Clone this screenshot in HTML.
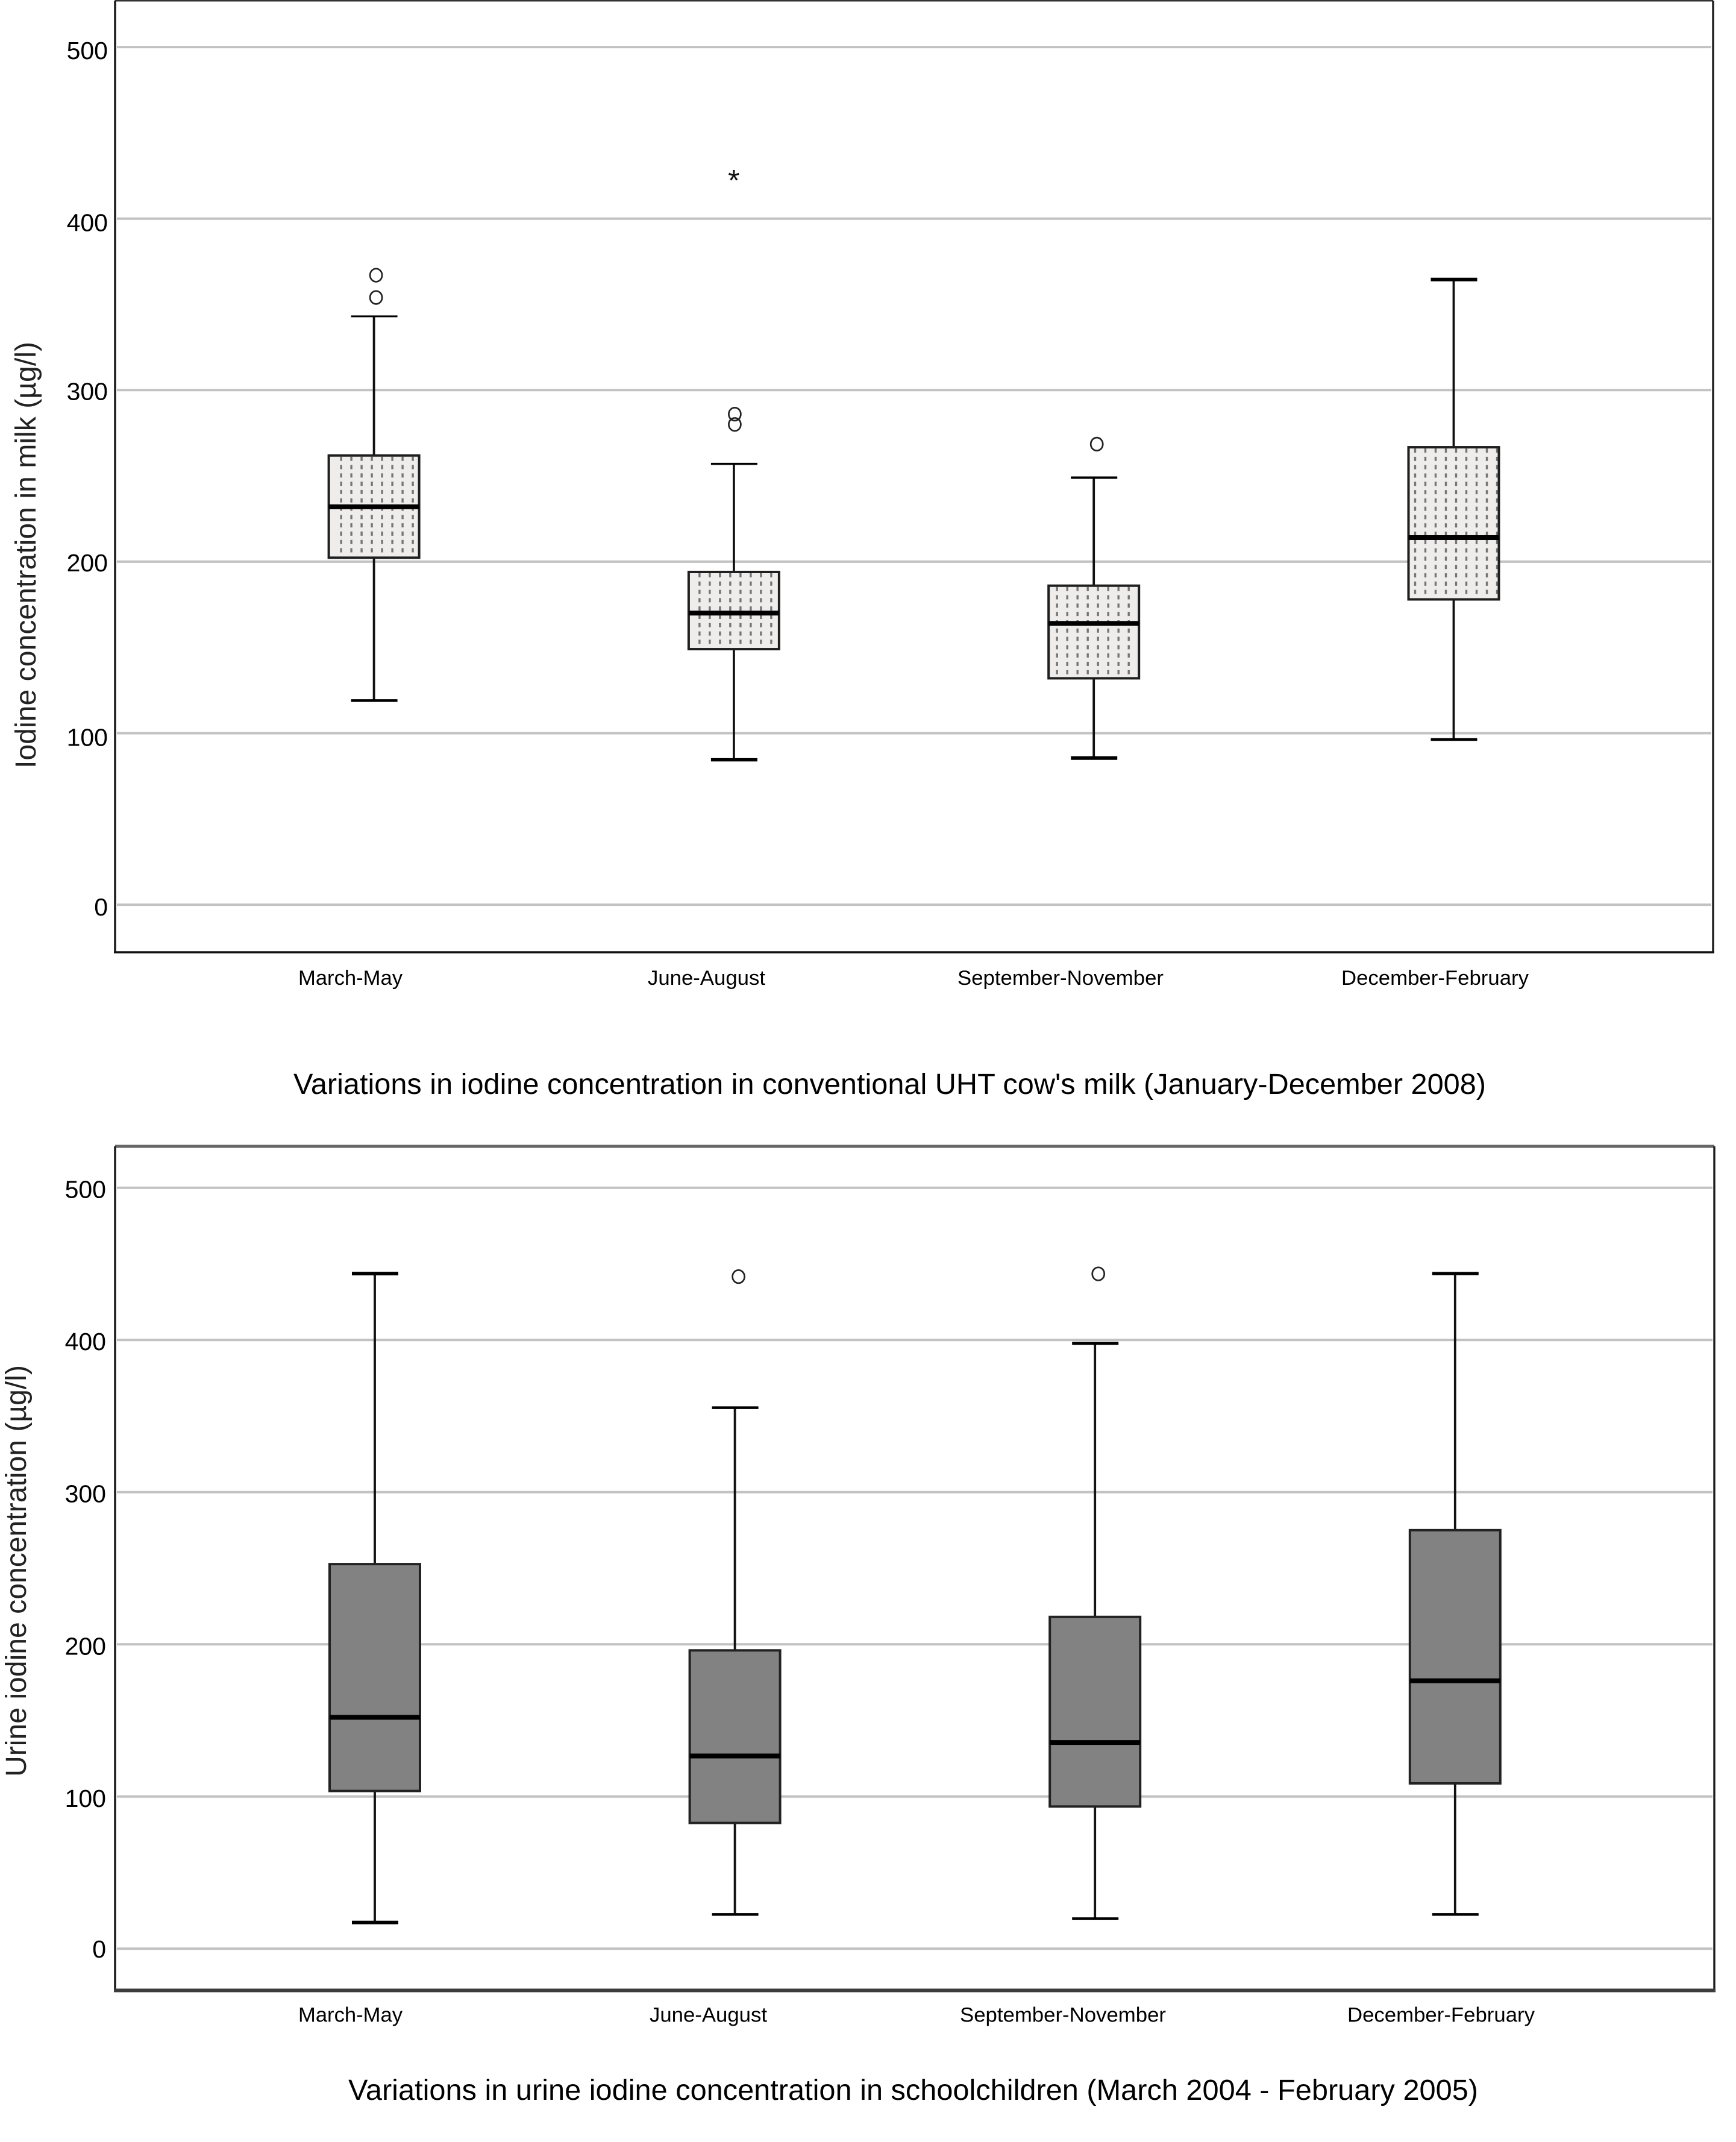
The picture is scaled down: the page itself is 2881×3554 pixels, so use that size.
<!DOCTYPE html>
<html lang="en">
<head>
<meta charset="utf-8">
<title>Iodine concentration boxplots</title>
<style>
html,body{margin:0;padding:0;background:#fff;}
svg{display:block;font-family:"Liberation Sans",Arial,sans-serif;}
</style>
</head>
<body>
<svg id="figure" xmlns="http://www.w3.org/2000/svg" width="2881" height="3554" viewBox="0 0 2881 3554"></svg>
<script>
var categories = ["March-May", "June-August", "September-November", "December-February"];
var tickLabels = [0, 100, 200, 300, 400, 500];

var milkLow = [119, 84.5, 85.5, 96.3];
var milkQ1 = [202.3, 149, 132, 178];
var milkMedian = [232, 170, 164, 214];
var milkQ3 = [261.9, 194, 186, 266.7];
var milkHigh = [343, 257, 249, 364.5];
var milkOutliers = [[367, 354], [286, 280], [268.5], []];
var milkExtremes = [[], [424], [], []];

var urineLow = [17.2, 22.5, 19.7, 22.5];
var urineQ1 = [103.6, 82.6, 93.4, 108.6];
var urineMedian = [152, 126.6, 135.5, 176];
var urineQ3 = [252.7, 196, 218, 275];
var urineHigh = [443.6, 355.5, 397.7, 443.6];
var urineOutliers = [[], [441.6], [443.4], []];
var urineExtremes = [[], [], [], []];

var svg = document.getElementById('figure');
var NS = 'http://www.w3.org/2000/svg';

function make(tag, attrs, name, parent) {
  var el = document.createElementNS(NS, tag);
  for (var k in attrs) el.setAttribute(k, attrs[k]);
  
  
  (parent || svg).appendChild(el);
  return el;
}

function drawChart(c) {
  var g = make('g', {}, c.id + '-chart');
  function y(v) { return c.y0 - c.yPerUnit * v; }
  function x(i) { return c.x0 + c.xStep * i; }

  /* gridlines and tick labels */
  tickLabels.forEach(function (t, i) {
    make('line', {x1: c.left + 3, x2: c.right - 3, y1: y(t), y2: y(t), stroke: '#c2c2c2', 'stroke-width': 4}, c.id + '-gridline-' + t, g);
    var lab = make('text', {x: c.tickRight, y: y(t) + c.tickDy[i], 'text-anchor': 'end', 'font-size': 41, fill: '#000'}, c.id + '-y-tick-' + t, g);
    lab.textContent = String(t);
  });

  /* boxes */
  categories.forEach(function (cat, i) {
    var cx = x(i), slug = c.id + '-' + cat.toLowerCase().replace(/[^a-z]+/g, '-');
    make('line', {x1: cx, x2: cx, y1: y(c.high[i]), y2: y(c.low[i]), stroke: '#111', 'stroke-width': 3.8}, slug + '-whisker', g);
    make('line', {x1: cx - 38, x2: cx + 39, y1: y(c.high[i]), y2: y(c.high[i]), stroke: '#000', 'stroke-width': c.highCapW[i]}, slug + '-upper-cap', g);
    make('line', {x1: cx - 38, x2: cx + 39, y1: y(c.low[i]), y2: y(c.low[i]), stroke: '#000', 'stroke-width': c.lowCapW[i]}, slug + '-lower-cap', g);
    var top = y(c.q3[i]), bot = y(c.q1[i]), bx = cx - c.boxHalf;
    make('rect', {x: bx, y: top, width: c.boxHalf * 2, height: bot - top, fill: c.fill}, slug + '-box-fill', g);
    if (c.hatchStart) {
      for (var col = 0; col < c.hatchCols[i]; col++) {
        var hx = bx + c.hatchStart[i] + 17 * col;
        make('line', {x1: hx, x2: hx, y1: top + 2, y2: bot - 2, stroke: '#757575', 'stroke-width': 3.4, 'stroke-dasharray': '7 6.8'}, slug + '-box-hatch', g);
      }
    }
    make('rect', {x: bx, y: top, width: c.boxHalf * 2, height: bot - top, fill: 'none', stroke: c.boxStroke, 'stroke-width': 4}, slug + '-box-outline', g);
    make('line', {x1: bx, x2: bx + c.boxHalf * 2, y1: y(c.median[i]), y2: y(c.median[i]), stroke: '#000', 'stroke-width': 8}, slug + '-median', g);
    c.outliers[i].forEach(function (v) {
      make('ellipse', {cx: cx + c.outDx[i], cy: y(v), rx: 10, ry: 10.8, fill: 'none', stroke: '#222', 'stroke-width': 2.7}, slug + '-outlier', g);
    });
    c.extremes[i].forEach(function (v) {
      var st = make('text', {x: cx, y: y(v) + 22, 'text-anchor': 'middle', 'font-size': 50, fill: '#111'}, slug + '-extreme-outlier', g);
      st.textContent = '*';
    });
    var lab = make('text', {x: c.catX[i], y: c.catY, 'font-size': 34.5, fill: '#000', textLength: c.catW[i], lengthAdjust: 'spacingAndGlyphs'}, slug + '-x-label', g);
    lab.textContent = cat;
  });

  /* frame */
  make('rect', {x: c.left, y: c.top, width: c.right - c.left, height: c.bottom - c.top, fill: 'none', stroke: 'none'}, c.id + '-plot-area', g);
  make('line', {x1: c.left, x2: c.right, y1: c.top, y2: c.top, stroke: c.topColor, 'stroke-width': c.topW}, c.id + '-frame-top', g);
  make('line', {x1: c.left, x2: c.left, y1: c.top, y2: c.bottom, stroke: '#1c1c1c', 'stroke-width': 3.6}, c.id + '-frame-left', g);
  make('line', {x1: c.right, x2: c.right, y1: c.top, y2: c.bottom, stroke: '#1c1c1c', 'stroke-width': 3.4}, c.id + '-frame-right', g);
  make('line', {x1: c.left - 2, x2: c.right + 2, y1: c.bottom, y2: c.bottom, stroke: c.bottomColor, 'stroke-width': c.bottomW}, c.id + '-frame-bottom', g);

  /* axis and figure titles */
  var yt = make('text', {transform: 'translate(' + c.yTitleX + ' ' + c.yTitleBottom + ') rotate(-90)', 'font-size': 48, fill: '#222', textLength: c.yTitleLen, lengthAdjust: 'spacingAndGlyphs'}, c.id + '-y-axis-title', g);
  yt.textContent = c.yTitle;
  var tt = make('text', {x: c.titleX, y: c.titleY, 'font-size': 48, fill: '#000', textLength: c.titleLen, lengthAdjust: 'spacingAndGlyphs'}, c.id + '-figure-title', g);
  tt.textContent = c.title;
}

drawChart({
  id: 'milk', y0: 1501.1, yPerUnit: 2.846, x0: 620.6, xStep: 597.3,
  left: 191, right: 2843, top: 1, bottom: 1580, topColor: '#333', topW: 3, bottomColor: '#111', bottomW: 3.6,
  tickRight: 179, tickDy: [18, 21, 16, 16, 21, 20],
  low: milkLow, q1: milkQ1, median: milkMedian, q3: milkQ3, high: milkHigh, outliers: milkOutliers, extremes: milkExtremes,
  highCapW: [3, 3.5, 4, 6], lowCapW: [4.5, 5.5, 6, 4.5],
  boxHalf: 75, fill: '#efecec', boxStroke: '#1e1e1e', outDx: [3.5, 1.5, 5, 0],
  hatchStart: [20.5, 18, 14, 11], hatchCols: [8, 8, 8, 9],
  catX: [495, 1075, 1589, 2226], catW: [173, 195, 342, 311], catY: 1634,
  yTitle: 'Iodine concentration in milk (µg/l)', yTitleX: 59, yTitleBottom: 1275, yTitleLen: 708,
  title: "Variations in iodine concentration in conventional UHT cow's milk (January-December 2008)", titleX: 487, titleY: 1815, titleLen: 1979
});

drawChart({
  id: 'urine', y0: 3233.2, yPerUnit: 2.525, x0: 622, xStep: 597.6,
  left: 191, right: 2845, top: 1902, bottom: 3302.5, topColor: '#666', topW: 5, bottomColor: '#3c3c3c', bottomW: 6,
  tickRight: 176, tickDy: [15, 17.5, 17.5, 17, 17, 17],
  low: urineLow, q1: urineQ1, median: urineMedian, q3: urineQ3, high: urineHigh, outliers: urineOutliers, extremes: urineExtremes,
  highCapW: [6, 4.5, 5, 5.5], lowCapW: [6, 4.5, 4.5, 4.5],
  boxHalf: 75, fill: '#828282', boxStroke: '#222', outDx: [6, 6, 5.5, 6],
  hatchStart: null, hatchCols: null,
  catX: [495, 1078, 1593, 2236], catW: [173, 195, 342, 311], catY: 3354.5,
  yTitle: 'Urine iodine concentration (µg/l)', yTitleX: 43, yTitleBottom: 2948, yTitleLen: 683,
  title: 'Variations in urine iodine concentration in schoolchildren (March 2004 - February 2005)', titleX: 578, titleY: 3484, titleLen: 1875
});
</script>
</body>
</html>
